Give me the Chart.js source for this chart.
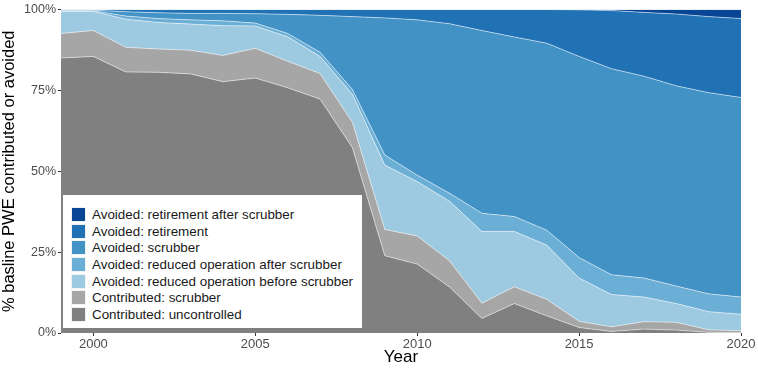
<!DOCTYPE html>
<html>
<head>
<meta charset="utf-8">
<script src="https://cdn.jsdelivr.net/npm/chart.js@4"></script>
<style>
  body { margin: 0; background: #fff; font-family: 'Liberation Sans', Arial, sans-serif; }
  #wrap { position: relative; width: 758px; height: 368px; }
  #legend {
    position: absolute; left: 63px; top: 195px; width: 299px; height: 133px;
    background: #fff; box-sizing: border-box; padding: 11px 0 0 8px;
  }
  .item { display: flex; align-items: center; height: 16.7px; font-size: 13.4px; color: #1a1a1a; white-space: nowrap; }
  .key { width: 15px; height: 15px; margin-right: 6px; box-sizing: border-box; border: 1px solid #f2f2f2; }
</style>
</head>
<body>
<div id="wrap">
  <canvas id="pweChart" width="758" height="368"></canvas>
  <div id="legend"></div>
</div>
<script>
const years = [1999, 2000, 2001, 2002, 2003, 2004, 2005, 2006, 2007, 2008, 2009, 2010,
  2011, 2012, 2013, 2014, 2015, 2016, 2017, 2018, 2019, 2020];

const uncontrolled = [85.0, 85.5, 80.7, 80.6, 80.1, 77.7, 78.8, 75.8, 72.3, 57.3, 23.9, 21.3,
  14.2, 4.5, 9.1, 5.3, 1.7, 0.5, 1.2, 0.9, 0.2, 0.1];
const contributedScrubber = [7.6, 8.0, 7.6, 7.2, 7.3, 8.1, 9.2, 8.2, 7.9, 7.8, 8.1, 8.7,
  8.1, 4.7, 5.2, 5.1, 1.9, 1.4, 2.3, 2.4, 0.8, 0.6];
const reducedBefore = [6.8, 5.9, 8.7, 8.2, 8.1, 9.2, 6.9, 7.6, 5.3, 8.7, 19.9, 16.8,
  18.4, 22.2, 17.1, 16.8, 13.4, 10.0, 7.6, 5.8, 5.6, 5.1];
const reducedAfter = [0.2, 0.2, 1.0, 1.2, 1.3, 1.5, 0.9, 1.0, 1.3, 1.5, 3.1, 2.0,
  2.5, 5.6, 4.6, 4.6, 6.3, 6.1, 5.9, 5.4, 5.5, 5.3];
const avoidedScrubber = [0.2, 0.2, 1.3, 1.8, 2.0, 2.3, 2.9, 5.9, 11.4, 22.5, 42.4, 48.0,
  52.4, 56.5, 55.5, 57.8, 62.2, 63.7, 62.4, 61.9, 62.2, 61.7];
const retirement = [0.2, 0.2, 0.7, 1.0, 1.2, 1.2, 1.3, 1.5, 1.8, 2.2, 2.6, 3.2,
  4.4, 6.5, 8.5, 10.4, 14.4, 18.0, 19.7, 22.2, 23.5, 24.4];
const retirementAfter = [0, 0, 0, 0, 0, 0, 0, 0, 0, 0, 0, 0,
  0, 0, 0, 0, 0.1, 0.3, 0.9, 1.4, 2.2, 2.8];

const xTicks = [2000, 2005, 2010, 2015, 2020];
const yTicks = [0, 25, 50, 75, 100];

// bottom of the stack first
const series = [
  { label: 'Contributed: uncontrolled', values: uncontrolled, color: '#808080' },
  { label: 'Contributed: scrubber', values: contributedScrubber, color: '#a6a6a6' },
  { label: 'Avoided: reduced operation before scrubber', values: reducedBefore, color: '#9ecae1' },
  { label: 'Avoided: reduced operation after scrubber', values: reducedAfter, color: '#6baed6' },
  { label: 'Avoided: scrubber', values: avoidedScrubber, color: '#4292c6' },
  { label: 'Avoided: retirement', values: retirement, color: '#2171b5' },
  { label: 'Avoided: retirement after scrubber', values: retirementAfter, color: '#084594' },
];

const font = "'Liberation Sans', Arial, sans-serif";

const ctx = document.getElementById('pweChart').getContext('2d');
new Chart(ctx, {
  type: 'line',
  data: {
    datasets: series.map((s, i) => ({
      label: s.label,
      data: years.map((yr, j) => ({ x: yr, y: s.values[j] })),
      backgroundColor: s.color,
      borderColor: 'rgba(255,255,255,0.65)',
      borderWidth: 0.8,
      pointRadius: 0,
      tension: 0,
      fill: i == 0 ? 'origin' : '-1',
    }))
  },
  options: {
    responsive: false,
    animation: false,
    layout: { padding: { top: 6, right: 17, left: 0, bottom: 0 } },
    plugins: { legend: { display: false }, tooltip: { enabled: false } },
    scales: {
      x: {
        type: 'linear',
        min: 1999,
        max: 2020,
        afterBuildTicks: (scale) => { scale.ticks = xTicks.map(v => ({ value: v })); },
        afterFit: (scale) => { scale.height = 35; },
        grid: { drawOnChartArea: false, drawTicks: true, tickLength: 3, color: '#333' },
        border: { display: false },
        ticks: { color: '#4d4d4d', font: { family: font, size: 13 }, padding: 1, maxRotation: 0, callback: (v) => String(v) },
        title: { display: true, text: 'Year', color: '#000', font: { family: font, size: 17 }, padding: { top: 0, bottom: 0 } },
      },
      y: {
        stacked: true,
        min: 0,
        max: 100,
        afterBuildTicks: (scale) => { scale.ticks = yTicks.map(v => ({ value: v })); },
        afterFit: (scale) => { scale.width = 61; },
        grid: { drawOnChartArea: false, drawTicks: true, tickLength: 3, color: '#333' },
        border: { display: false },
        ticks: { color: '#4d4d4d', font: { family: font, size: 12.5 }, padding: 2, callback: (v) => v + '%' },
        title: { display: true, text: '% basline PWE contributed or avoided', color: '#000', font: { family: font, size: 16.5 }, padding: { top: 0, bottom: 1 } },
      }
    }
  }
});

// legend, top of the stack first
const legend = document.getElementById('legend');
series.slice().reverse().forEach(s => {
  const item = document.createElement('div');
  item.className = 'item';
  item.innerHTML = '<span class="key" style="background:' + s.color + '"></span>' + s.label;
  legend.appendChild(item);
});
</script>
</body>
</html>
